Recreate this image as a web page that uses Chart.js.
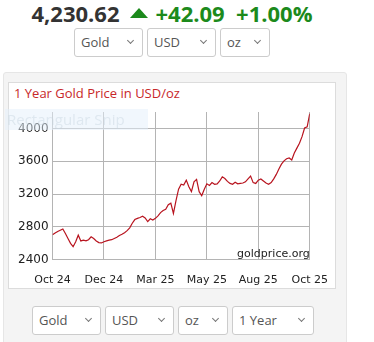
<!DOCTYPE html>
<html>
<head>
<meta charset="utf-8">
<script src="https://cdn.jsdelivr.net/npm/chart.js@4.4.1/dist/chart.umd.min.js"></script>
<style>
  body { margin: 0; background: #fff; font-family: "Open Sans", sans-serif; }
  #page { position: relative; width: 374px; height: 342px; overflow: hidden; }
  .hdr { position: absolute; top: -2px; left: 0; width: 344px; text-align: center; font-weight: bold; font-size: 22px; white-space: nowrap; }
  .hdr .price { color: #333; }
  .hdr .up { color: #1c8a1c; }
  .tri { display: inline-block; width: 0; height: 0; border-left: 9px solid transparent; border-right: 9px solid transparent; border-bottom: 10px solid #1c8a1c; margin: 0 8px 0 10px; vertical-align: 4px; }
  .sel { position: absolute; height: 27px; border: 1px solid #ccc; border-radius: 3px; background: #fff; box-sizing: content-box; font-size: 13px; color: #555; line-height: 27px; padding-left: 6px; }
  .sel::after { content: ""; position: absolute; right: 9px; top: 9px; width: 4px; height: 4px; border-right: 1.3px solid #777; border-bottom: 1.3px solid #777; transform: rotate(45deg); }
  #panel { position: absolute; left: 3px; top: 72px; width: 342px; height: 280px; background: #f4f4f4; border: 1px solid #e6e6e6; border-radius: 3px; }
  #box { position: absolute; left: 8px; top: 82px; width: 326px; height: 205px; background: #fff; border: 1px solid #dcdcdc; }
  #title { position: absolute; left: 14px; top: 84px; font-size: 13px; color: #c8282a; }
  #wrap { position: absolute; left: 8px; top: 82px; width: 334px; height: 219px; }
  #snip { position: absolute; left: 5px; top: 109px; width: 143px; height: 21px; background: rgba(228,240,252,0.5); color: rgba(200,212,225,0.45); font-size: 15px; line-height: 21px; padding-left: 2px; box-sizing: border-box; }
</style>
</head>
<body>
<div id="page">
  <div class="hdr"><span class="price">4,230.62</span><span class="tri"></span><span class="up">+42.09&nbsp;&nbsp;+1.00%</span></div>
  <div class="sel" style="left:74px;top:28px;width:61px">Gold</div>
  <div class="sel" style="left:147px;top:28px;width:61px">USD</div>
  <div class="sel" style="left:220px;top:28px;width:42px">oz</div>

  <div id="panel"></div>
  <div id="box"></div>
  <div id="title">1 Year Gold Price in USD/oz</div>
  <div id="wrap"><canvas id="goldChart"></canvas></div>
  <div id="snip">Rectangular Snip</div>

  <div class="sel" style="left:32px;top:306px;width:61px">Gold</div>
  <div class="sel" style="left:105px;top:306px;width:61px">USD</div>
  <div class="sel" style="left:178px;top:306px;width:42px">oz</div>
  <div class="sel" style="left:232px;top:306px;width:74px">1 Year</div>
</div>
<script>
// tick labels along the x axis, one every 20 points
const monthLabels = ["Oct 24", "Dec 24", "Mar 25", "May 25", "Aug 25", "Oct 25"];
const yTicks = [2400, 2800, 3200, 3600, 4000];

// gold price, USD/oz (evenly spaced over the year)
const prices = [
  2705, 2725, 2745, 2760, 2775, 2720, 2660, 2600, 2560, 2620,
  2700, 2630, 2640, 2630, 2645, 2680, 2660, 2630, 2610, 2605,
  2620, 2630, 2640, 2645, 2660, 2675, 2695, 2710, 2730, 2755,
  2790, 2845, 2890, 2905, 2915, 2930, 2910, 2865, 2900, 2885,
  2905, 2935, 2975, 3000, 3015, 3070, 3090, 2965, 3120, 3260,
  3320, 3310, 3370, 3290, 3230, 3350, 3380, 3230, 3180, 3260,
  3325, 3305, 3340, 3320, 3325, 3360, 3410, 3390, 3355, 3330,
  3320, 3345, 3325, 3330, 3335, 3350, 3385, 3420, 3340, 3330,
  3370, 3385, 3360, 3335, 3320, 3340, 3385, 3440, 3505, 3565,
  3605, 3630, 3640, 3615, 3700, 3760, 3820, 3900, 4005, 4020,
  4180
];

const points = prices.map((v, i) => ({ x: i, y: v }));
const step = (prices.length - 1) / (monthLabels.length - 1);

// watermark in the lower right of the plot
const watermark = {
  id: "watermark",
  afterDraw(chart) {
    const { ctx, chartArea } = chart;
    ctx.save();
    ctx.font = "11px 'DejaVu Sans'";
    ctx.fillStyle = "#222";
    ctx.textAlign = "right";
    ctx.textBaseline = "alphabetic";
    ctx.fillText("goldprice.org", chartArea.right, chartArea.bottom - 3);
    ctx.restore();
  },
};

const ctx = document.getElementById("goldChart").getContext("2d");
new Chart(ctx, {
  type: "line",
  data: {
    datasets: [
      {
        data: points,
        borderColor: "#b8141f",
        borderWidth: 1.2,
        pointRadius: 0,
        tension: 0,
      },
    ],
  },
  options: {
    responsive: true,
    maintainAspectRatio: false,
    animation: false,
    layout: { padding: { top: 30, left: 6, right: 6, bottom: 0 } },
    plugins: { legend: { display: false }, tooltip: { enabled: false } },
    scales: {
      x: {
        type: "linear",
        min: 0,
        max: prices.length - 1,
        afterBuildTicks(axis) {
          axis.ticks = monthLabels.map((_, i) => ({ value: i * step }));
        },
        ticks: {
          callback: (v) => monthLabels[Math.round(v / step)],
          font: { family: "DejaVu Sans", size: 11 },
          color: "#222",
          padding: 14,
          maxRotation: 0,
          autoSkip: false,
        },
        grid: { color: "#b4b4b4", drawTicks: false },
        border: { color: "#b4b4b4" },
      },
      y: {
        min: 2400,
        max: 4200,
        afterBuildTicks(axis) {
          axis.ticks = yTicks.map((v) => ({ value: v }));
        },
        ticks: {
          callback: (v) => String(v),
          font: { family: "DejaVu Sans", size: 12 },
          color: "#222",
          padding: 4,
        },
        grid: { color: "#b4b4b4", drawTicks: false },
        border: { color: "#b4b4b4" },
      },
    },
  },
  plugins: [watermark],
});
</script>
</body>
</html>
